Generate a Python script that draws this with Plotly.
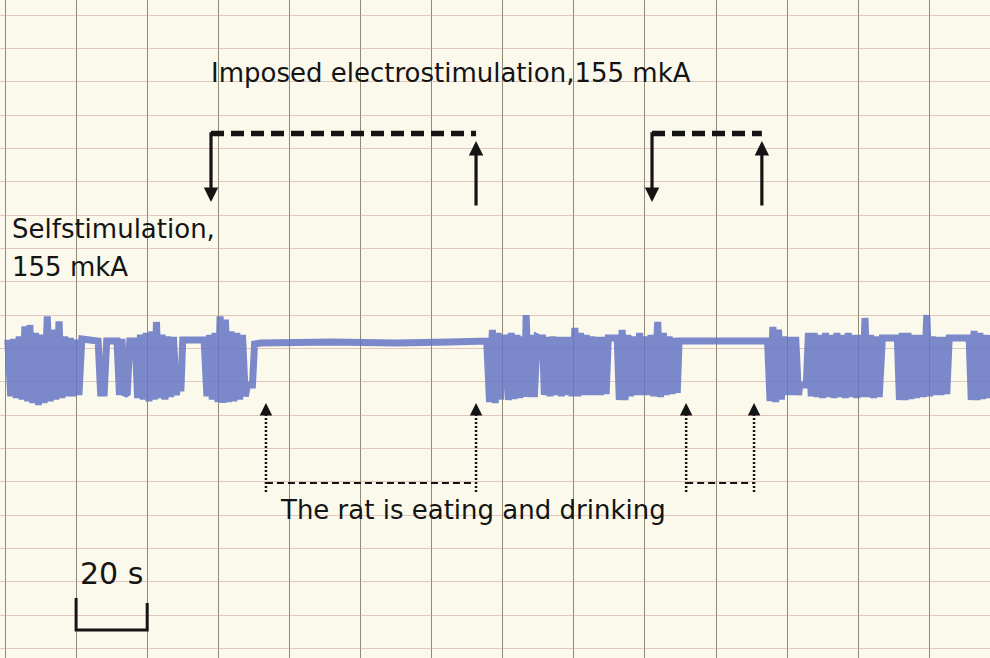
import plotly.graph_objects as go

# ---- chart-recorder pen trace (time in s, pen deflection in chart divisions) ----
trace_time_s = [
    0.8, 1.6, 2.4, 3.2, 4.0, 4.8, 5.6, 6.4, 7.0, 7.8, 8.6, 9.4, 10.2, 11.0, 11.9, 12.7,
    13.5, 14.3, 15.2, 16.0, 16.8, 17.6, 18.4, 19.2, 20.0,
    20.8, 21.6, 26.2, 26.9, 27.9, 28.6, 31.5, 32.2, 32.9, 33.6, 34.4, 35.1, 36.6,
    37.3, 38.1, 38.9, 39.7, 40.5, 41.3, 42.1, 42.6, 43.4, 44.2, 45.0, 45.8, 46.6, 47.4,
    48.2, 48.5, 49.5, 50.0, 56.0,
    56.8, 57.5, 58.3, 59.1, 59.9, 60.5, 61.3, 62.0, 62.8, 63.6, 64.4, 65.2, 66.0, 66.8,
    67.6, 68.2, 69.6, 70.2,
    72.0, 92.0, 110.0, 125.0, 135.5,
    136.3, 137.1, 137.9, 138.7, 139.4, 140.0, 141.0, 141.6, 142.4, 143.2, 144.0, 144.8,
    145.6, 146.1, 146.6, 147.3, 148.1, 148.9, 149.7, 150.3, 151.2, 151.7, 152.5, 153.3,
    154.1, 154.9, 155.7, 156.5, 157.3, 158.0, 158.7, 159.5, 160.3, 161.1, 161.9, 162.7,
    163.5, 164.3, 165.1, 165.9, 166.7, 167.5, 168.3, 169.1, 169.7, 172.2,
    172.8, 173.6, 174.4, 175.2, 176.0, 176.8, 177.6, 178.5, 179.3, 180.1, 180.9, 181.7,
    182.5, 183.6, 184.4, 185.2, 186.0, 186.8, 187.6, 188.4, 189.1, 189.6,
    200.0, 214.5,
    215.2, 216.0, 216.8, 217.6, 218.4, 219.2, 220.0, 220.8, 221.6, 222.4, 223.2, 223.6,
    225.4, 226.0, 226.8, 227.6, 228.4, 229.2, 230.0, 230.8, 231.6, 232.4, 233.2, 234.0,
    234.8, 235.6, 236.4, 237.2, 238.0, 238.8, 239.6, 240.4, 241.2, 241.9, 242.7, 243.5,
    244.3, 245.1, 245.9, 246.8, 251.0,
    251.6, 252.4, 253.2, 254.0, 254.8, 255.6, 256.4, 257.3, 258.3, 259.3, 260.1, 260.9,
    261.7, 262.5, 263.3, 264.1, 264.9, 265.6, 271.2,
    271.8, 272.6, 273.4, 274.2, 275.0, 275.8, 276.6, 277.4,
]
trace_level_div = [
    1.6, -0.1, 1.62, -0.15, 1.7, -0.2, 2.0, -0.25, 2.04, -0.3, 1.8, -0.36, 1.75, -0.3, 2.3, -0.25,
    1.9, -0.2, 2.15, -0.15, 1.7, -0.1, 1.65, -0.1, 1.6,
    -0.06, 1.62, 1.56, 0.0, 0.0, 1.56, 1.56, -0.06, 1.62, -0.06, 0.0, 1.56, 1.56,
    -0.15, 1.75, -0.2, 1.8, -0.25, 1.85, -0.2, 2.13, -0.15, 1.75, -0.2, 1.7, -0.12, 1.68,
    -0.06, 0.15, 0.15, 1.59, 1.59,
    -0.1, 1.74, -0.2, 1.8, -0.27, 2.3, -0.3, 2.2, -0.27, 1.85, -0.25, 1.8, -0.2, 1.74,
    -0.1, 0.24, 0.24, 1.47,
    1.5, 1.53, 1.5, 1.53, 1.56,
    -0.27, 1.89, -0.3, 1.8, -0.2, 1.65, 1.65, -0.21, 1.8, -0.18, 1.74, -0.15,
    1.7, -0.12, 2.34, -0.12, 1.74, -0.12, 1.68, 1.65, 1.65, -0.06, 1.68, -0.1,
    1.7, -0.06, 1.68, -0.1, 1.68, -0.06, 1.68, -0.1, 1.95, -0.1, 1.8, -0.06,
    1.74, -0.06, 1.7, -0.06, 1.68, -0.06, 1.68, -0.03, 1.65, 1.65,
    -0.21, 1.89, -0.21, 1.74, -0.1, 1.7, -0.06, 1.8, -0.06, 1.7, -0.06, 1.74,
    -0.1, 2.13, -0.12, 1.8, -0.06, 1.7, -0.03, 1.65, 0.0, 1.56,
    1.56, 1.56,
    -0.24, 1.98, -0.27, 1.9, -0.2, 1.7, -0.06, 1.68, -0.06, 1.68, -0.06, 0.24,
    0.24, 1.8, -0.1, 1.8, -0.12, 1.74, -0.15, 1.8, -0.12, 1.74, -0.15, 1.8,
    -0.12, 1.74, -0.15, 1.8, -0.12, 1.74, -0.15, 1.74, -0.12, 2.25, -0.12, 1.74,
    -0.15, 1.7, -0.12, 1.65, 1.65,
    -0.21, 1.8, -0.21, 1.8, -0.18, 1.74, -0.15, 1.74, -0.12, 2.34, -0.1, 1.7,
    -0.06, 1.68, -0.06, 1.68, -0.03, 1.65, 1.65,
    -0.21, 1.86, -0.21, 1.8, -0.18, 1.74, -0.15, 1.74,
]

# ---- events (s) ----
imposed_on_s = [57.95, 182.0]
imposed_off_s = [132.5, 212.9]
eating_start_s = [73.4, 191.6]
eating_end_s = [132.5, 210.7]
scale_bar_s = [20, 40]

# ---- label texts ----
label_imposed = "Imposed electrostimulation,155 mkA"
label_self = ["Selfstimulation,", "155 mkA"]
label_eating = "The rat is eating and drinking"
label_scale = "20 s"

# ---- annotation levels (chart divisions) ----
bracket_level = 7.785
down_tip_level = 5.73
up_tail_level = 5.58
up_tip_level = 7.56
eat_tip_level = -0.30
eat_stub_level = -0.66
eat_bottom_level = -2.97
eat_line_level = -2.70
scale_top_level = -6.15
scale_bottom_level = -7.11

X_RANGE = [-1.406, 277.07]
Y_RANGE = [-7.95, 11.79]
BG = "#fbf9ec"
INK = "#141414"
FONT = "DejaVu Sans"

fig = go.Figure()
fig.add_trace(go.Scatter(
    x=trace_time_s, y=trace_level_div, mode="lines",
    line=dict(color="rgba(100,116,196,0.85)", width=7, simplify=False),
    hoverinfo="skip", showlegend=False,
))

# scale bar
fig.add_trace(go.Scatter(
    x=[scale_bar_s[0], scale_bar_s[0], scale_bar_s[1], scale_bar_s[1]],
    y=[scale_top_level, scale_bottom_level, scale_bottom_level, scale_top_level - 0.15],
    mode="lines", line=dict(color=INK, width=3), hoverinfo="skip", showlegend=False,
))

shapes = []
annotations = []
for t_on, t_off in zip(imposed_on_s, imposed_off_s):
    shapes.append(dict(type="line", xref="x", yref="y", x0=t_on, x1=t_off,
                       y0=bracket_level, y1=bracket_level,
                       line=dict(color=INK, width=5.5, dash="13px,7px")))
    annotations.append(dict(x=t_on, y=down_tip_level, ax=t_on, ay=bracket_level + 0.08,
                            xref="x", yref="y", axref="x", ayref="y", text="",
                            showarrow=True, arrowhead=2, arrowsize=0.9, arrowwidth=3.2,
                            arrowcolor=INK, standoff=0, startstandoff=0))
    annotations.append(dict(x=t_off, y=up_tip_level, ax=t_off, ay=up_tail_level,
                            xref="x", yref="y", axref="x", ayref="y", text="",
                            showarrow=True, arrowhead=2, arrowsize=0.9, arrowwidth=3.2,
                            arrowcolor=INK, standoff=0, startstandoff=0))

for t_a, t_b in zip(eating_start_s, eating_end_s):
    shapes.append(dict(type="line", xref="x", yref="y", x0=t_a, x1=t_b,
                       y0=eat_line_level, y1=eat_line_level,
                       line=dict(color=INK, width=2.2, dash="7px,4px")))
    for t in (t_a, t_b):
        shapes.append(dict(type="line", xref="x", yref="y", x0=t, x1=t,
                           y0=eat_bottom_level, y1=eat_stub_level,
                           line=dict(color=INK, width=2.5, dash="2px,2px")))
        annotations.append(dict(x=t, y=eat_tip_level, ax=t, ay=eat_stub_level,
                                xref="x", yref="y", axref="x", ayref="y", text="",
                                showarrow=True, arrowhead=2, arrowsize=1.25, arrowwidth=2,
                                arrowcolor=INK, standoff=0, startstandoff=0))

annotations += [
    dict(x=57.4, y=9.6, text=label_imposed, xanchor="left", yanchor="middle",
         showarrow=False, font=dict(family=FONT, size=26, color=INK)),
    dict(x=1.4, y=4.92, text=label_self[0], xanchor="left", yanchor="middle",
         showarrow=False, font=dict(family=FONT, size=26, color=INK)),
    dict(x=1.4, y=3.78, text=label_self[1], xanchor="left", yanchor="middle",
         showarrow=False, font=dict(family=FONT, size=26, color=INK)),
    dict(x=76.8, y=-3.51, text=label_eating, xanchor="left", yanchor="middle",
         showarrow=False, font=dict(family=FONT, size=26, color=INK)),
    dict(x=20.6, y=-5.4, text=label_scale, xanchor="left", yanchor="middle",
         showarrow=False, font=dict(family=FONT, size=30, color=INK)),
]

fig.update_layout(
    width=990, height=658, margin=dict(l=0, r=0, t=0, b=0),
    paper_bgcolor=BG, plot_bgcolor=BG, showlegend=False,
    shapes=shapes, annotations=annotations,
    xaxis=dict(range=X_RANGE, showgrid=True, tick0=0, dtick=20,
               gridcolor="rgba(105,100,75,0.75)", gridwidth=1.4,
               zeroline=False, showticklabels=False, ticks="", showline=False, fixedrange=True),
    yaxis=dict(range=Y_RANGE, showgrid=True, tick0=0.34, dtick=1,
               gridcolor="rgba(200,150,140,0.5)", gridwidth=1.2,
               zeroline=False, showticklabels=False, ticks="", showline=False, fixedrange=True),
)

fig.write_html("out.html", config={"displayModeBar": False},
               post_script="document.body.style.margin='0';document.body.style.overflow='hidden';")
